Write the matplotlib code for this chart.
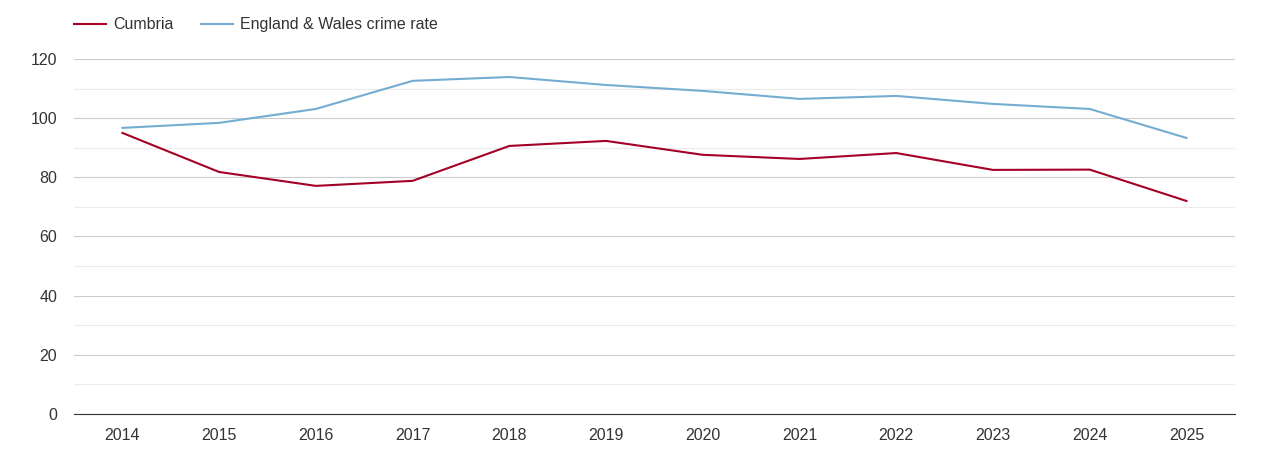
import matplotlib
matplotlib.use("Agg")
import matplotlib.pyplot as plt
from matplotlib.ticker import MultipleLocator

years = ["2014", "2015", "2016", "2017", "2018", "2019", "2020", "2021", "2022", "2023", "2024", "2025"]
cumbria = [95.0, 81.8, 77.1, 78.8, 90.6, 92.3, 87.6, 86.2, 88.2, 82.5, 82.6, 72.0]
england_wales = [96.7, 98.4, 103.1, 112.6, 113.9, 111.2, 109.2, 106.5, 107.5, 104.8, 103.1, 93.3]

plt.rcParams["font.family"] = ["Liberation Sans", "DejaVu Sans"]

fig = plt.figure(figsize=(12.7, 4.5), dpi=100)
ax = fig.add_axes([0.0583, 0.08, 0.914, 0.789])

x = list(range(len(years)))
ax.plot(x, cumbria, color="#a50026", linewidth=1.5, label="Cumbria")
ax.plot(x, england_wales, color="#74add1", linewidth=1.5, label="England & Wales crime rate")

ax.set_xlim(-0.5, len(years) - 0.5)
ax.set_ylim(0, 120)
ax.set_xticks(x)
ax.set_xticklabels(years)
ax.yaxis.set_major_locator(MultipleLocator(20))
ax.yaxis.set_minor_locator(MultipleLocator(10))
ax.grid(axis="y", which="major", color="#cccccc", linewidth=0.8)
ax.grid(axis="y", which="minor", color="#ececec", linewidth=0.8)
ax.set_axisbelow(True)

for side in ["top", "right", "left"]:
    ax.spines[side].set_visible(False)
ax.spines["bottom"].set_color("#333333")
ax.tick_params(axis="both", which="both", length=0, labelsize=11.5, colors="#333333")
ax.tick_params(axis="x", pad=10)
ax.tick_params(axis="y", pad=12)

ax.legend(loc="lower left", bbox_to_anchor=(0.0, 1.075), ncol=2, frameon=False,
          fontsize=11.5, handlelength=2.0, handletextpad=0.45, columnspacing=1.7,
          borderaxespad=0, borderpad=0, labelcolor="#333333")

fig.savefig("out.png", dpi=100)
